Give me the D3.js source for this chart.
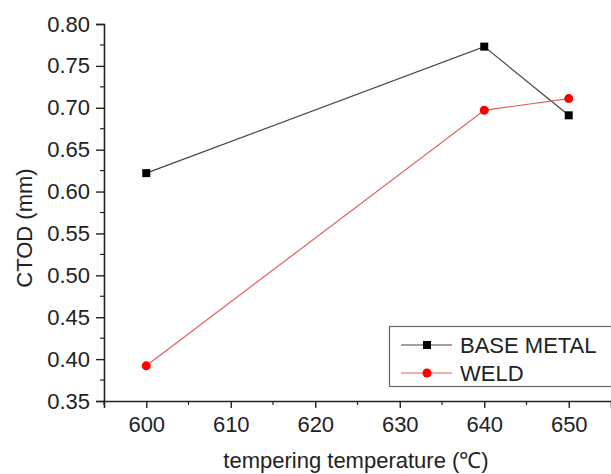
<!DOCTYPE html>
<html><head><meta charset="utf-8">
<script src="https://cdn.jsdelivr.net/npm/d3@7"></script>
<style>body{margin:0;background:#fff}svg{display:block}text{font-family:"Liberation Sans",Arial,sans-serif;fill:#222}</style>
</head><body>
<svg id="c" width="611" height="474"></svg>
<script>
const temps = [600, 640, 650];
const baseMetal = [0.622, 0.773, 0.691];
const weld = [0.392, 0.697, 0.711];
const seriesNames = ["BASE METAL", "WELD"];
const xTicks = [600, 610, 620, 630, 640, 650];
const yTicks = [0.35, 0.40, 0.45, 0.50, 0.55, 0.60, 0.65, 0.70, 0.75, 0.80];

(function(){
const svg = d3.select("#c");
const pL = 104, pR = 611, pT = 24, pB = 401;
const x = d3.scaleLinear().domain([595, 655]).range([pL, pR]);
const y = d3.scaleLinear().domain([0.35, 0.80]).range([pB, pT]);

const yAxis = d3.axisLeft(y).tickValues(yTicks).tickFormat(d3.format(".2f")).tickSize(8).tickPadding(6);
const gy = svg.append("g").attr("transform", `translate(${pL},0)`).call(yAxis);
const xAxis = d3.axisBottom(x).tickValues(xTicks).tickFormat(d3.format("d")).tickSize(7).tickPadding(8);
const gx = svg.append("g").attr("transform", `translate(0,${pB})`).call(xAxis);
[gx, gy].forEach(g => {
  g.select(".domain").attr("stroke", "#222").attr("stroke-width", 1.6);
  g.selectAll(".tick line").attr("stroke", "#222").attr("stroke-width", 1.4);
  g.selectAll(".tick text").style("font-size", "22px").attr("fill", "#222");
});
const yMinor = d3.range(0.375, 0.80, 0.05);
svg.append("g").selectAll("line").data(yMinor).join("line")
  .attr("x1", pL - 4).attr("x2", pL).attr("y1", d => y(d)).attr("y2", d => y(d))
  .attr("stroke", "#222").attr("stroke-width", 1.2);
const xMinor = [595, 605, 615, 625, 635, 645];
svg.append("g").selectAll("line").data(xMinor).join("line")
  .attr("y1", pB).attr("y2", pB + 4).attr("x1", d => x(d)).attr("x2", d => x(d))
  .attr("stroke", "#222").attr("stroke-width", 1.2);

svg.append("text").attr("x", 356).attr("y", 468).attr("text-anchor", "middle")
  .style("font-size", "22px").text("tempering temperature (℃)");
svg.append("text").attr("transform", "translate(32,228) rotate(-90)").attr("text-anchor", "middle")
  .style("font-size", "22px").text("CTOD (mm)");

const line = d3.line().x(d => x(d[0])).y(d => y(d[1]));
const bData = temps.map((t, i) => [t, baseMetal[i]]);
const wData = temps.map((t, i) => [t, weld[i]]);
svg.append("path").datum(bData).attr("d", line).attr("fill", "none").attr("stroke", "#444").attr("stroke-width", 1.2);
svg.append("path").datum(wData).attr("d", line).attr("fill", "none").attr("stroke", "#e06060").attr("stroke-width", 1.2);
svg.append("g").selectAll("rect").data(bData).join("rect")
  .attr("x", d => x(d[0]) - 4).attr("y", d => y(d[1]) - 4).attr("width", 8).attr("height", 8).attr("fill", "#000");
svg.append("g").selectAll("circle").data(wData).join("circle")
  .attr("cx", d => x(d[0])).attr("cy", d => y(d[1])).attr("r", 4.5).attr("fill", "#f00");

const lg = svg.append("g");
lg.append("rect").attr("x", 389.5).attr("y", 326.5).attr("width", 230).attr("height", 60)
  .attr("fill", "#fff").attr("stroke", "#666").attr("stroke-width", 1.2);
const legY = [345, 373];
lg.append("line").attr("x1", 401).attr("x2", 452).attr("y1", legY[0]).attr("y2", legY[0]).attr("stroke", "#444").attr("stroke-width", 1.2);
lg.append("rect").attr("x", 423).attr("y", legY[0] - 4).attr("width", 8).attr("height", 8).attr("fill", "#000");
lg.append("line").attr("x1", 401).attr("x2", 452).attr("y1", legY[1]).attr("y2", legY[1]).attr("stroke", "#e06060").attr("stroke-width", 1.2);
lg.append("circle").attr("cx", 427).attr("cy", legY[1]).attr("r", 4.5).attr("fill", "#f00");
seriesNames.forEach((n, i) => {
  lg.append("text").attr("x", 460).attr("y", legY[i] + 8).style("font-size", "22px").text(n);
});
})();
</script>
</body></html>
